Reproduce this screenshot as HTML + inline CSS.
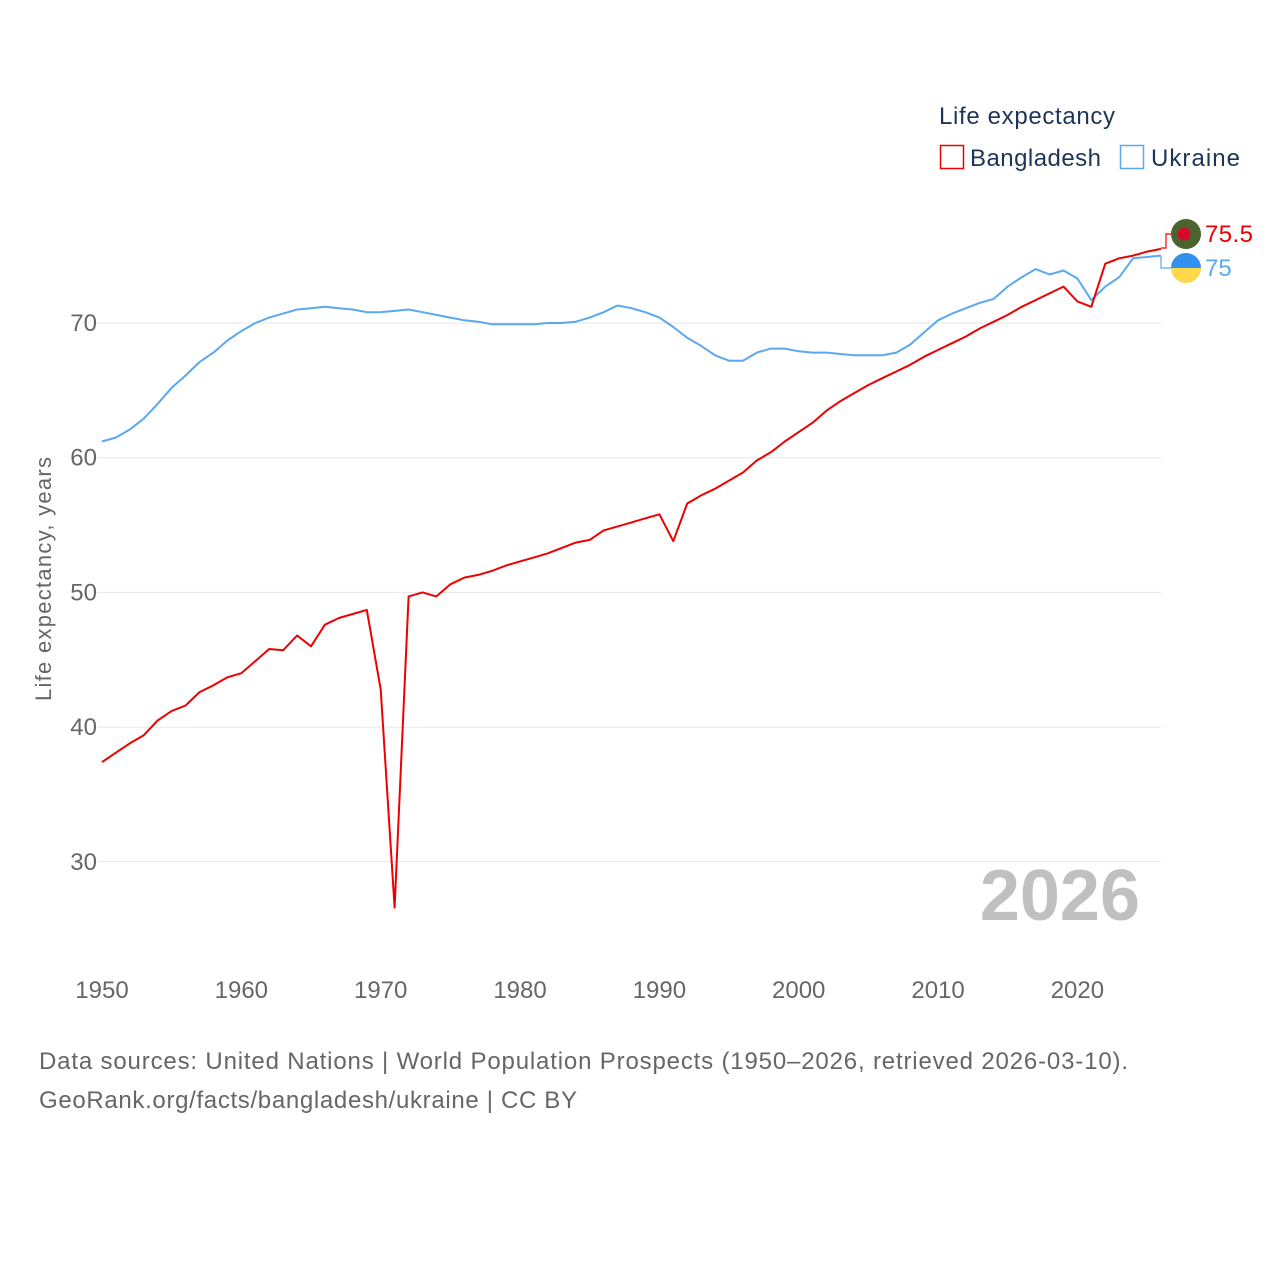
<!DOCTYPE html>
<html><head><meta charset="utf-8"><style>
body{margin:0;background:#fff;font-family:"Liberation Sans",sans-serif}
svg text{font-family:"Liberation Sans",sans-serif}
</style></head><body>
<svg id="chart" width="1280" height="1280" xmlns="http://www.w3.org/2000/svg">
<g id="grid"></g>
<g id="ticks"></g>
<text transform="translate(51,579) rotate(-90)" text-anchor="middle" font-size="22" fill="#666" textLength="244">Life expectancy, years</text>
<text x="1140" y="920" text-anchor="end" font-size="72" font-weight="bold" fill="#c0c0c0">2026</text>
<g id="series"></g>
<g>
<text x="939" y="124" font-size="24" fill="#1d3557" textLength="176">Life expectancy</text>
<rect x="940.5" y="145.5" width="23" height="23" fill="none" stroke="#ee0000" stroke-width="1.5"/>
<text x="970" y="166" font-size="24" fill="#1d3557" textLength="131">Bangladesh</text>
<rect x="1120.5" y="145.5" width="23" height="23" fill="none" stroke="#5ba8f0" stroke-width="1.5"/>
<text x="1151" y="166" font-size="24" fill="#1d3557" textLength="89">Ukraine</text>
</g>
<g>
<circle cx="1186" cy="234" r="15" fill="#49642d"/><circle cx="1184" cy="234" r="6.5" fill="#d70a2b"/>
</g>
<g>
<clipPath id="uc"><circle cx="1186" cy="268" r="15"/></clipPath>
<rect x="1171" y="253" width="30" height="15" fill="#3191ee" clip-path="url(#uc)"/>
<rect x="1171" y="268" width="30" height="15" fill="#fdd84d" clip-path="url(#uc)"/>
</g>
<text x="1205" y="242" font-size="24" fill="#ee0000" textLength="48">75.5</text>
<text x="1205" y="276" font-size="24" fill="#5ba8f0">75</text>
<path d="M1161 248 L1166 248 L1166 234 L1171 234" fill="none" stroke="#ee0000" stroke-width="1.2"/>
<path d="M1161 256 L1161 268 L1171 268" fill="none" stroke="#5ba8f0" stroke-width="1.2"/>
<text x="39" y="1069" font-size="24" fill="#666" textLength="1089">Data sources: United Nations | World Population Prospects (1950–2026, retrieved 2026-03-10).</text>
<text x="39" y="1108" font-size="24" fill="#666" textLength="538">GeoRank.org/facts/bangladesh/ukraine | CC BY</text>
</svg>
<script>
const years=[];for(let y=1950;y<=2026;y++)years.push(y);
const bangladesh=[37.4,38.1,38.8,39.4,40.5,41.2,41.6,42.6,43.1,43.7,44.0,44.9,45.8,45.7,46.8,46.0,47.6,48.1,48.4,48.7,42.8,26.6,49.7,50.0,49.7,50.6,51.1,51.3,51.6,52.0,52.3,52.6,52.9,53.3,53.7,53.9,54.6,54.9,55.2,55.5,55.8,53.8,56.6,57.2,57.7,58.3,58.9,59.8,60.4,61.2,61.9,62.6,63.5,64.2,64.8,65.4,65.9,66.4,66.9,67.5,68.0,68.5,69.0,69.6,70.1,70.6,71.2,71.7,72.2,72.7,71.6,71.2,74.4,74.8,75.0,75.3,75.5];
const ukraine=[61.2,61.5,62.1,62.9,64.0,65.2,66.1,67.1,67.8,68.7,69.4,70.0,70.4,70.7,71.0,71.1,71.2,71.1,71.0,70.8,70.8,70.9,71.0,70.8,70.6,70.4,70.2,70.1,69.9,69.9,69.9,69.9,70.0,70.0,70.1,70.4,70.8,71.3,71.1,70.8,70.4,69.7,68.9,68.3,67.6,67.2,67.2,67.8,68.1,68.1,67.9,67.8,67.8,67.7,67.6,67.6,67.6,67.8,68.4,69.3,70.2,70.7,71.1,71.5,71.8,72.7,73.4,74.0,73.6,73.9,73.3,71.7,72.7,73.4,74.8,74.9,75.0];
const yTicks=[30,40,50,60,70];
const xTicks=[1950,1960,1970,1980,1990,2000,2010,2020];
const X=y=>102+(y-1950)*(1059/76);
const Y=v=>323+(70-v)*13.47;
const NS="http://www.w3.org/2000/svg";
const grid=document.getElementById('grid'),ticks=document.getElementById('ticks'),series=document.getElementById('series');
yTicks.forEach(v=>{
 const l=document.createElementNS(NS,'line');
 
 
 l.setAttribute('x1',97);l.setAttribute('x2',1161);l.setAttribute('y1',Y(v));l.setAttribute('y2',Y(v));
 l.setAttribute('stroke','#e6e6e6');l.setAttribute('stroke-width','1');grid.appendChild(l);
 const t=document.createElementNS(NS,'text');
 
 
 t.setAttribute('x',97);t.setAttribute('y',Y(v)+8);t.setAttribute('text-anchor','end');
 t.setAttribute('font-size','24');t.setAttribute('fill','#666');t.textContent=v;ticks.appendChild(t);
});
xTicks.forEach(v=>{
 const t=document.createElementNS(NS,'text');
 
 
 t.setAttribute('x',X(v));t.setAttribute('y',998);t.setAttribute('text-anchor','middle');
 t.setAttribute('font-size','24');t.setAttribute('fill','#666');t.textContent=v;ticks.appendChild(t);
});
function line(vals,color,name){
 const p=document.createElementNS(NS,'path');
 
 
 p.setAttribute('d',vals.map((v,i)=>(i?'L':'M')+X(years[i]).toFixed(1)+' '+Y(v).toFixed(1)).join(' '));
 p.setAttribute('fill','none');p.setAttribute('stroke',color);p.setAttribute('stroke-width','2');
 p.setAttribute('stroke-linejoin','round');series.appendChild(p);
}
line(ukraine,'#5ba8f0','line-ukraine');
line(bangladesh,'#ee0000','line-bangladesh');
</script>
</body></html>
